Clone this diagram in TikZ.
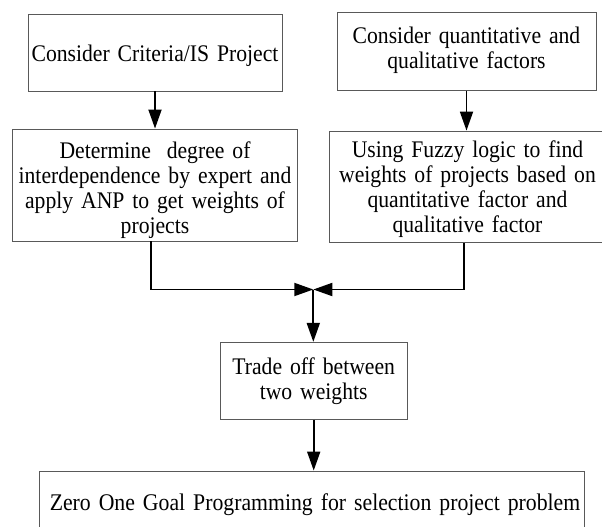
\documentclass[tikz,border=0pt]{standalone}
\usepackage{fontspec}
\setmainfont[FakeStretch=0.91]{Liberation Serif}
\usetikzlibrary{arrows.meta}
\tikzset{
  box/.style={draw=black!65, line width=0.9pt, inner sep=0pt, fill=none},
  txt/.style={font=\fontsize{23.8}{25}\selectfont, align=center, anchor=base, inner sep=0pt},
  conn/.style={draw=black, line width=1.8pt, -{Triangle[length=19pt,width=13pt]}}
}
\begin{document}
\begin{tikzpicture}[x=1pt,y=-1pt]
\path[use as bounding box, clip] (0,0) rectangle (602,527);
\fill[white] (0,0) rectangle (602,527);
% boxes
\node[box, minimum width=254pt, minimum height=77pt] (a) at (155,52.5) {};
\node[box, minimum width=259pt, minimum height=77.7pt] (b) at (466.5,51.2) {};
\node[box, minimum width=285.4pt, minimum height=112pt] (c) at (155,185) {};
\node[box, minimum width=277pt, minimum height=111.7pt] (d) at (467.5,186.9) {};
\node[box, minimum width=187.3pt, minimum height=77pt] (e) at (313.7,380.8) {};
\node[box, minimum width=545.4pt, minimum height=68pt] (f) at (312,505) {};
% texts
\node[txt, text width=254pt] (at) at (155,61.5) {Consider Criteria/IS Project};
\node[txt, text width=259pt] (bt) at (466.5,43.8) {Consider quantitative and\\qualitative factors};
\node[txt, text width=285pt] (ct) at (155,158) {Determine~ degree of\\interdependence by expert and\\apply ANP to get weights of\\projects};
\node[txt, text width=277pt] (dt) at (467.5,157) {Using Fuzzy logic to find\\weights of projects based on\\quantitative factor and\\qualitative factor};
\node[txt, text width=187pt] (et) at (313.7,374.5) {Trade off between\\two weights};
\node[txt, text width=545pt, font=\fontsize{23.9}{25}\selectfont] (ft) at (315,510) {Zero One Goal Programming for selection project problem};
% connectors
\coordinate (j) at (313.3,289.5);
\draw[conn] (a.south) -- (c.north);
\draw[conn] (b.south) -- (b.south |- d.north);
\draw[conn] ([xshift=-4.3pt]c.south) |- (j);
\draw[conn] ([xshift=-3.5pt]d.south) |- (j);
\draw[conn] (j) -- (j |- e.north);
\draw[conn] (e.south) -- (e.south |- f.north);
\end{tikzpicture}
\end{document}
